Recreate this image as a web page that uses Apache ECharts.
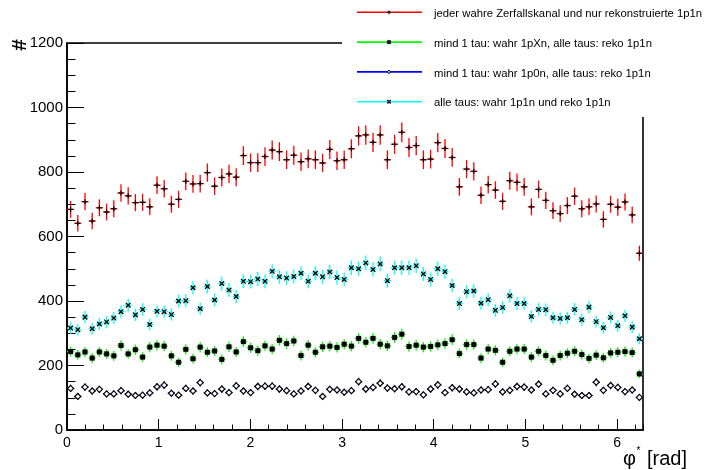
<!DOCTYPE html>
<html>
<head>
<meta charset="utf-8">
<script src="https://cdn.jsdelivr.net/npm/echarts@6/dist/echarts.min.js"></script>
<style>
  html, body { margin: 0; padding: 0; background: #fff; }
  #chart { width: 708px; height: 470px; }
</style>
</head>
<body>
<div id="chart"></div>
<script>
// Histogram binning of phi* (0 .. 2pi, 80 bins)
const PHI_MIN = 0;
const PHI_MAX = 2 * Math.PI;
const N_BINS = 80;

// Bin contents per decay-channel selection
const allChannels = [
  684, 641, 708, 648, 689, 676, 686, 735, 726, 705, 706, 692, 759, 748, 700, 715, 771, 763, 764, 798,
  756, 783, 794, 784, 851, 829, 829, 848, 868, 863, 838, 852, 832, 841, 838, 828, 870, 835, 838, 872,
  912, 915, 892, 915, 838, 886, 923, 876, 882, 838, 840, 891, 873, 845, 754, 809, 802, 728, 761, 744,
  709, 773, 768, 754, 692, 746, 712, 680, 671, 696, 725, 686, 692, 701, 653, 700, 691, 707, 667, 548
];
const true1pXn = [
  243, 233, 242, 223, 242, 236, 230, 262, 236, 249, 226, 257, 263, 260, 230, 210, 250, 221, 257, 241,
  245, 219, 258, 242, 274, 255, 246, 261, 251, 278, 268, 276, 231, 263, 241, 258, 260, 256, 266, 260,
  284, 272, 284, 266, 261, 287, 297, 259, 263, 257, 259, 264, 268, 280, 237, 265, 265, 223, 251, 247,
  210, 244, 251, 251, 226, 244, 231, 216, 231, 238, 244, 234, 222, 232, 224, 239, 241, 243, 240, 174
];
const true1p0n = [
  129, 104, 133, 121, 126, 112, 112, 122, 111, 107, 108, 115, 134, 139, 114, 108, 129, 121, 147, 115,
  113, 127, 116, 137, 121, 116, 135, 136, 136, 127, 122, 112, 121, 135, 123, 104, 126, 124, 117, 122,
  150, 127, 132, 145, 130, 128, 134, 118, 119, 109, 127, 140, 116, 131, 127, 118, 115, 124, 125, 143,
  118, 123, 135, 133, 124, 142, 112, 123, 112, 129, 111, 107, 107, 148, 123, 138, 132, 119, 124, 101
];
const true1p1n = [
  316, 311, 350, 314, 329, 335, 347, 367, 387, 357, 374, 327, 368, 367, 358, 400, 401, 441, 376, 445,
  403, 454, 434, 414, 461, 460, 468, 461, 492, 475, 471, 476, 486, 461, 486, 475, 490, 473, 467, 503,
  500, 518, 498, 515, 463, 503, 503, 503, 509, 484, 467, 500, 491, 448, 392, 429, 431, 393, 404, 371,
  380, 416, 392, 392, 352, 374, 373, 348, 346, 348, 374, 342, 381, 336, 317, 349, 323, 354, 319, 283
];

const legendLabels = [
  'jeder wahre Zerfallskanal und nur rekonstruierte 1p1n',
  'mind 1 tau: wahr 1pXn, alle taus: reko 1p1n',
  'mind 1 tau: wahr 1p0n, alle taus: reko 1p1n',
  'alle taus: wahr 1p1n und reko 1p1n'
];
const yTitle = '#';
const xTitleMain = 'φ';
const xTitleSup = '*';
const xTitleUnit = '[rad]';

const FONT = "'Liberation Sans', Arial, Helvetica, sans-serif";
const BIN_W = (PHI_MAX - PHI_MIN) / N_BINS;

// marker drawing helpers (ROOT-like marker styles)
function markerShapes(kind, x, y, s) {
  const k = s || 1;
  if (kind === 'plus') {
    const h = 2.5 * k;
    return [
      { type: 'line', shape: { x1: x - h, y1: y, x2: x + h, y2: y }, style: { stroke: '#000', lineWidth: 1.2 } },
      { type: 'line', shape: { x1: x, y1: y - h, x2: x, y2: y + h }, style: { stroke: '#000', lineWidth: 1.2 } }
    ];
  }
  if (kind === 'square') {
    const h = 2.4 * k;
    return [{ type: 'rect', shape: { x: x - h, y: y - h, width: 2 * h, height: 2 * h },
      style: { fill: '#000', stroke: 'rgba(0,0,0,0.35)', lineWidth: 0.8 } }];
  }
  if (kind === 'diamond') {
    const h = 3 * k;
    return [{ type: 'polygon', shape: { points: [[x, y - h], [x + h, y], [x, y + h], [x - h, y]] },
      style: { fill: '#fff', stroke: '#000', lineWidth: 1.2 } }];
  }
  if (kind === 'circle') {
    return [{ type: 'circle', shape: { cx: x, cy: y, r: 1.9 * k },
      style: { fill: '#fff', stroke: '#000', lineWidth: 1 } }];
  }
  // cross
  const h = 2.3 * k;
  return [
    { type: 'line', shape: { x1: x - h, y1: y - h, x2: x + h, y2: y + h }, style: { stroke: '#000', lineWidth: 1.3 } },
    { type: 'line', shape: { x1: x - h, y1: y + h, x2: x + h, y2: y - h }, style: { stroke: '#000', lineWidth: 1.3 } }
  ];
}

// one histogram drawn as points with Poisson error bars
function histSeries(name, counts, color, marker) {
  const data = counts.map((v, i) => [PHI_MIN + (i + 0.5) * BIN_W, v, Math.sqrt(v)]);
  return {
    name: name,
    type: 'custom',
    xAxisIndex: 0,
    yAxisIndex: 0,
    data: data,
    renderItem: function (params, api) {
      const x = api.value(0), y = api.value(1), e = api.value(2);
      const c = api.coord([x, y]);
      const top = api.coord([x, y + e]);
      const bot = api.coord([x, y - e]);
      const l = api.coord([x - BIN_W / 2, y]);
      const r = api.coord([x + BIN_W / 2, y]);
      const children = [
        { type: 'line', shape: { x1: c[0], y1: top[1], x2: c[0], y2: bot[1] }, style: { stroke: color, lineWidth: 1.3 } },
        { type: 'line', shape: { x1: l[0], y1: c[1], x2: r[0], y2: c[1] }, style: { stroke: color, lineWidth: 1.3 } }
      ].concat(markerShapes(marker, c[0], c[1]));
      return { type: 'group', children: children };
    }
  };
}

// legend box drawn over the upper right corner of the frame
const legendColors = ['#ff0000', '#00ff00', '#0000ff', '#00ffff'];
const legendMarkers = ['plus', 'square', 'circle', 'cross'];
const legendGraphics = [{
  type: 'rect', shape: { x: 342, y: 0, width: 366, height: 117 },
  style: { fill: '#fff' }, z: 100
}];
legendLabels.forEach((label, i) => {
  const yRow = 12.3 + i * 29.8;
  legendGraphics.push({
    type: 'line', shape: { x1: 357, y1: yRow, x2: 422, y2: yRow },
    style: { stroke: legendColors[i], lineWidth: 1.6 }, z: 101
  });
  markerShapes(legendMarkers[i], 389, yRow, 0.75).forEach(m => {
    m.z = 102;
    legendGraphics.push(m);
  });
  legendGraphics.push({
    type: 'text', x: 434, y: yRow + 1.5, z: 101,
    style: { text: label, fill: '#000', font: '11.3px ' + FONT, textAlign: 'left', textVerticalAlign: 'middle' }
  });
});

const titleGraphics = [
  { type: 'text', x: 20.5, y: 45, rotation: Math.PI / 2, z: 101,
    style: { text: yTitle, fill: '#000', font: 'bold 21px ' + FONT, textAlign: 'center', textVerticalAlign: 'middle' } },
  { type: 'text', x: 623, y: 469, z: 101,
    style: { text: xTitleMain, fill: '#000', font: '20px ' + FONT, textAlign: 'left', textVerticalAlign: 'bottom' } },
  { type: 'text', x: 638.5, y: 451, z: 101,
    style: { text: xTitleSup, fill: '#000', font: '10px ' + FONT, textAlign: 'center', textVerticalAlign: 'middle' } },
  { type: 'text', x: 687, y: 469, z: 101,
    style: { text: xTitleUnit, fill: '#000', font: '20px ' + FONT, textAlign: 'right', textVerticalAlign: 'bottom' } }
];

const axisBlack = { color: '#000', width: 1.6 };
const plainNumber = v => String(Math.round(v));

const option = {
  animation: false,
  backgroundColor: '#fff',
  grid: {
    left: 67, right: 65, top: 43, bottom: 40,
    show: true, borderColor: '#000', borderWidth: 1.6, backgroundColor: 'transparent'
  },
  xAxis: [
    {
      type: 'value', min: PHI_MIN, max: PHI_MAX, interval: 1, position: 'bottom',
      axisLine: { show: true, lineStyle: axisBlack },
      axisTick: { show: true, inside: true, length: 11, lineStyle: { color: '#000', width: 1 } },
      axisLabel: { color: '#000', fontSize: 14, fontFamily: FONT, margin: 6, showMaxLabel: false, formatter: plainNumber },
      splitLine: { show: false }
    },
    {
      type: 'value', min: PHI_MIN, max: PHI_MAX, interval: 0.2, position: 'bottom',
      axisLine: { show: false },
      axisTick: { show: true, inside: true, length: 5.5, lineStyle: { color: '#000', width: 1 } },
      axisLabel: { show: false },
      splitLine: { show: false }
    }
  ],
  yAxis: [
    {
      type: 'value', min: 0, max: 1200, interval: 200, position: 'left',
      axisLine: { show: true, lineStyle: axisBlack },
      axisTick: { show: true, inside: true, length: 17, lineStyle: { color: '#000', width: 1 } },
      axisLabel: { color: '#000', fontSize: 15, fontFamily: FONT, margin: 4, formatter: plainNumber },
      splitLine: { show: false }
    },
    {
      type: 'value', min: 0, max: 1200, interval: 50, position: 'left',
      axisLine: { show: false },
      axisTick: { show: true, inside: true, length: 8.5, lineStyle: { color: '#000', width: 1 } },
      axisLabel: { show: false },
      splitLine: { show: false }
    }
  ],
  series: [
    histSeries(legendLabels[0], allChannels, '#ff0000', 'plus'),
    histSeries(legendLabels[1], true1pXn, '#00ff00', 'square'),
    histSeries(legendLabels[2], true1p0n, '#0000ff', 'diamond'),
    histSeries(legendLabels[3], true1p1n, '#00ffff', 'cross')
  ],
  graphic: legendGraphics.concat(titleGraphics)
};

const chart = echarts.init(document.getElementById('chart'), null, { renderer: 'canvas' });
chart.setOption(option);
</script>
</body>
</html>
